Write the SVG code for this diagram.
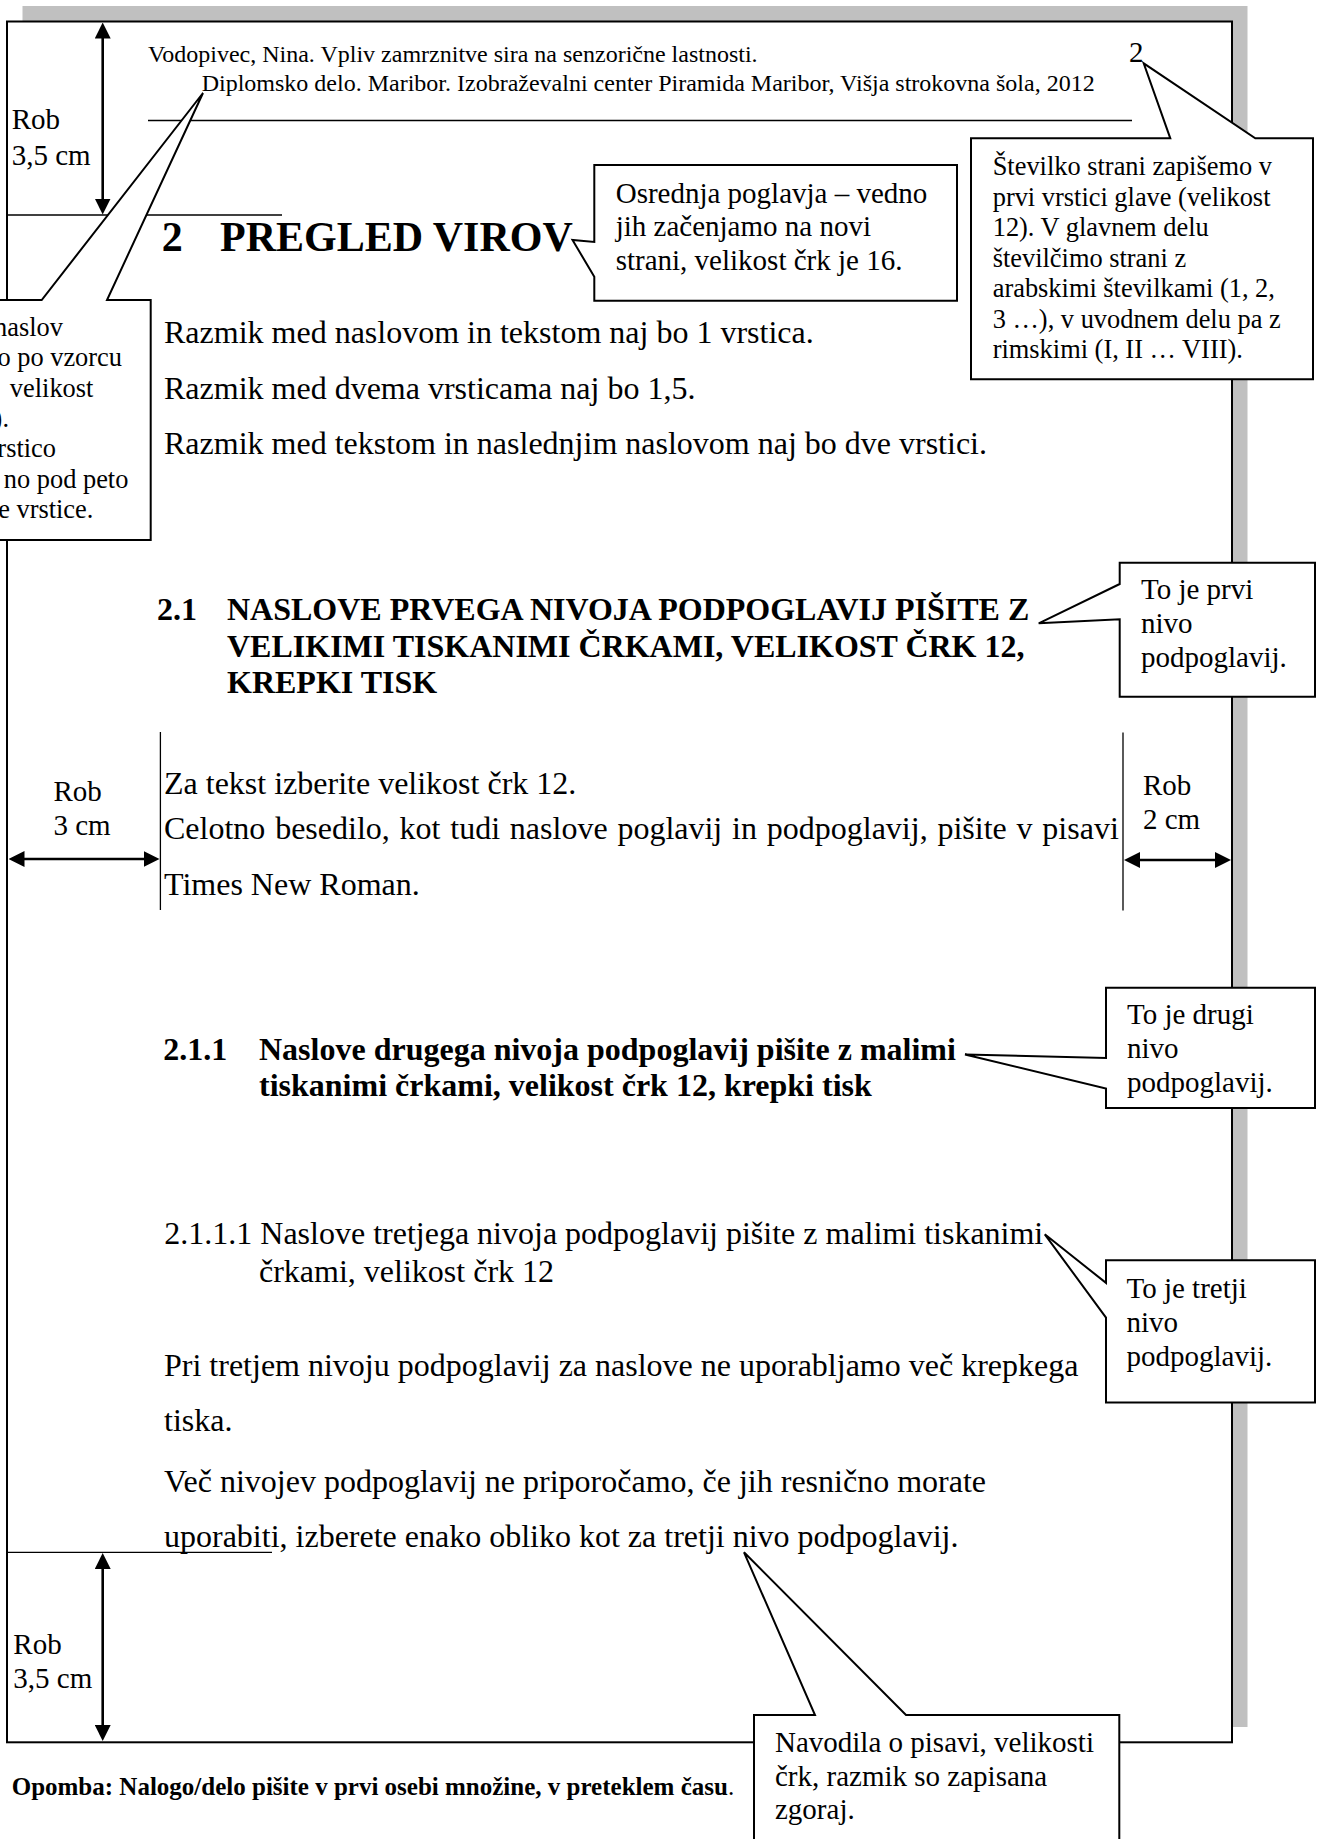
<svg xmlns="http://www.w3.org/2000/svg" width="1317" height="1839" viewBox="0 0 1317 1839">
<defs>
<marker id="ah" markerUnits="userSpaceOnUse" markerWidth="16" markerHeight="16" viewBox="0 0 16 16" refX="10" refY="8" orient="auto-start-reverse"><path d="M0,0 L16,8 L0,16 Z" fill="#000"/></marker>
</defs>
<style>
text { font-family: "Liberation Serif", "Times New Roman", serif; fill: #000; }
.body { font-size: 32px; }
.b32 { font-size: 32px; font-weight: bold; }
.hdr { font-size: 24px; }
.lbl { font-size: 29px; }
.c29 { font-size: 29px; }
.c26 { font-size: 26.4px; }
.callout { fill: #fff; stroke: #000; stroke-width: 2; stroke-linejoin: miter; }
.thin { stroke: #000; stroke-width: 1.3; fill: none; }
.dim { stroke: #000; stroke-width: 2.6; fill: none; marker-start: url(#ah); marker-end: url(#ah); }
</style>
<rect x="0" y="0" width="1317" height="1839" fill="#fff"/>
<g id="page">
<rect x="22.5" y="6" width="1225" height="1721" fill="#c0c0c0"/>
<rect x="7" y="21.5" width="1225" height="1720.8" fill="#fff" stroke="#000" stroke-width="2"/>
</g>
<g id="header">
<text class="hdr" x="148" y="62">Vodopivec, Nina. Vpliv zamrznitve sira na senzorične lastnosti.</text>
<text class="hdr" x="201.7" y="90.7">Diplomsko delo. Maribor. Izobraževalni center Piramida Maribor, Višja strokovna šola, 2012</text>
<line class="thin" x1="148" y1="120.5" x2="1132" y2="120.5"/>
<text style="font-size:29px" x="1129" y="61.7">2</text>
</g>
<g id="margin-lines">
<line class="thin" x1="7" y1="215" x2="282" y2="215"/>
<line class="thin" x1="160.4" y1="732" x2="160.4" y2="910"/>
<line class="thin" x1="1123" y1="732.5" x2="1123" y2="910.5"/>
<line class="thin" x1="7" y1="1552.3" x2="272" y2="1552.3" stroke="#444"/>
</g>
<g id="margin-labels">
<text class="lbl" x="11.7" y="129">Rob</text>
<text class="lbl" x="11.7" y="165">3,5 cm</text>
<text class="lbl" x="53.5" y="801">Rob</text>
<text class="lbl" x="53.5" y="835">3 cm</text>
<text class="lbl" x="1143" y="795">Rob</text>
<text class="lbl" x="1143" y="829.3">2 cm</text>
<text class="lbl" x="13.3" y="1654">Rob</text>
<text class="lbl" x="13.3" y="1688.3">3,5 cm</text>
</g>
<g id="heading-2">
<text x="161.7" y="250.5" style="font-size:42px;font-weight:bold">2</text>
<text x="220" y="250.5" style="font-size:42px;font-weight:bold">PREGLED VIROV</text>
</g>
<g id="text-spacing">
<text class="body" x="164" y="343">Razmik med naslovom in tekstom naj bo 1 vrstica.</text>
<text class="body" x="164" y="398.5">Razmik med dvema vrsticama naj bo 1,5.</text>
<text class="body" x="164" y="454">Razmik med tekstom in naslednjim naslovom naj bo dve vrstici.</text>
</g>
<g id="heading-2-1">
<text class="b32" x="157" y="620">2.1</text>
<text class="b32" x="227" y="620">NASLOVE PRVEGA NIVOJA PODPOGLAVIJ PIŠITE Z</text>
<text class="b32" x="227" y="656.7">VELIKIMI TISKANIMI ČRKAMI, VELIKOST ČRK 12,</text>
<text class="b32" x="227" y="693.4">KREPKI TISK</text>
</g>
<g id="text-font">
<text class="body" x="164" y="793.5">Za tekst izberite velikost črk 12.</text>
<text class="body" x="164" y="839.3" word-spacing="1.8">Celotno besedilo, kot tudi naslove poglavij in podpoglavij, pišite v pisavi</text>
<text class="body" x="164" y="894.5">Times New Roman.</text>
</g>
<g id="heading-2-1-1">
<text class="b32" x="163.3" y="1059.8">2.1.1</text>
<text class="b32" x="259" y="1059.8">Naslove drugega nivoja podpoglavij pišite z malimi</text>
<text class="b32" x="259" y="1096.3">tiskanimi črkami, velikost črk 12, krepki tisk</text>
</g>
<g id="heading-2-1-1-1">
<text class="body" x="164.3" y="1244">2.1.1.1 Naslove tretjega nivoja podpoglavij pišite z malimi tiskanimi</text>
<text class="body" x="259" y="1281.5">črkami, velikost črk 12</text>
</g>
<g id="text-levels">
<text class="body" x="164" y="1375.5">Pri tretjem nivoju podpoglavij za naslove ne uporabljamo več krepkega</text>
<text class="body" x="164" y="1431">tiska.</text>
<text class="body" x="164" y="1491.5">Več nivojev podpoglavij ne priporočamo, če  jih resnično morate</text>
<text class="body" x="164" y="1547.3">uporabiti, izberete enako obliko kot za tretji nivo podpoglavij.</text>
</g>
<g id="note">
<text x="11.7" y="1795" style="font-size:25px"><tspan font-weight="bold">Opomba: Nalogo/delo pišite v prvi osebi množine, v preteklem času</tspan>.</text>
</g>
<g id="callout-header">
<path class="callout" d="M-5,300 L41.7,300 L203,93 L107,300 L150.7,300 L150.7,540 L-5,540 Z"/>
<g class="c26" text-anchor="end">
<text class="c26" x="63" y="335.5">naslov</text>
<text class="c26" x="122" y="366">o po vzorcu</text>
<text class="c26" x="93.4" y="396.5">velikost</text>
<text class="c26" x="9" y="427">0).</text>
<text class="c26" x="56" y="457.3">rstico</text>
<text class="c26" x="128.4" y="487.6">no pod  peto</text>
<text class="c26" x="93.4" y="518">e vrstice.</text>
</g>
</g>
<g id="callout-chapter">
<path class="callout" d="M594.3,165 L957,165 L957,300.7 L594.3,300.7 L594.3,276.7 L572.5,240 L594.3,242 Z"/>
<text class="c29" x="615.7" y="202.5">Osrednja poglavja – vedno</text>
<text class="c29" x="615.7" y="236">jih začenjamo na novi</text>
<text class="c29" x="615.7" y="269.5">strani, velikost črk je 16.</text>
</g>
<g id="callout-pagenumber">
<path class="callout" d="M971,138.3 L1170.3,138.3 L1143.7,63.3 L1255.3,138.3 L1313,138.3 L1313,379.3 L971,379.3 Z"/>
<text class="c26" x="992.7" y="175">Številko strani zapišemo v</text>
<text class="c26" x="992.7" y="205.5">prvi vrstici glave (velikost</text>
<text class="c26" x="992.7" y="236">12). V glavnem delu</text>
<text class="c26" x="992.7" y="266.5">številčimo strani z</text>
<text class="c26" x="992.7" y="297">arabskimi številkami (1, 2,</text>
<text class="c26" x="992.7" y="327.5">3 …), v uvodnem delu pa z</text>
<text class="c26" x="992.7" y="358">rimskimi (I, II … VIII).</text>
</g>
<g id="callout-level1">
<path class="callout" d="M1119.7,562.7 L1315,562.7 L1315,696.7 L1119.7,696.7 L1119.7,619.3 L1038.7,623.3 L1119.7,584 Z"/>
<text class="c29" x="1141" y="599.3">To je prvi</text>
<text class="c29" x="1141" y="633">nivo</text>
<text class="c29" x="1141" y="667.3">podpoglavij.</text>
</g>
<g id="callout-level2">
<path class="callout" d="M1106,987.7 L1315,987.7 L1315,1108 L1106,1108 L1106,1088.6 L965,1054.5 L1106,1058 Z"/>
<text class="c29" x="1127" y="1024">To je drugi</text>
<text class="c29" x="1127" y="1058">nivo</text>
<text class="c29" x="1127" y="1092">podpoglavij.</text>
</g>
<g id="callout-level3">
<path class="callout" d="M1106,1260.2 L1315,1260.2 L1315,1402.6 L1106,1402.6 L1106,1317.7 L1044.8,1234.3 L1106,1282.9 Z"/>
<text class="c29" x="1126.5" y="1298">To je tretji</text>
<text class="c29" x="1126.5" y="1332">nivo</text>
<text class="c29" x="1126.5" y="1366">podpoglavij.</text>
</g>
<g id="callout-instructions">
<path class="callout" d="M754,1715 L815,1715 L744,1552.3 L906,1715 L1119.3,1715 L1119.3,1850 L754,1850 Z"/>
<text class="c29" x="775" y="1752.3">Navodila o pisavi, velikosti</text>
<text class="c29" x="775" y="1785.7">črk, razmik so zapisana</text>
<text class="c29" x="775" y="1819">zgoraj.</text>
</g>
<g id="connectors">
<line class="dim" x1="102.7" y1="28.5" x2="102.7" y2="208.5"/>
<line class="dim" x1="14.5" y1="859" x2="153.5" y2="859"/>
<line class="dim" x1="1130" y1="860" x2="1225" y2="860"/>
<line class="dim" x1="102.7" y1="1559" x2="102.7" y2="1735"/>
</g>
</svg>
